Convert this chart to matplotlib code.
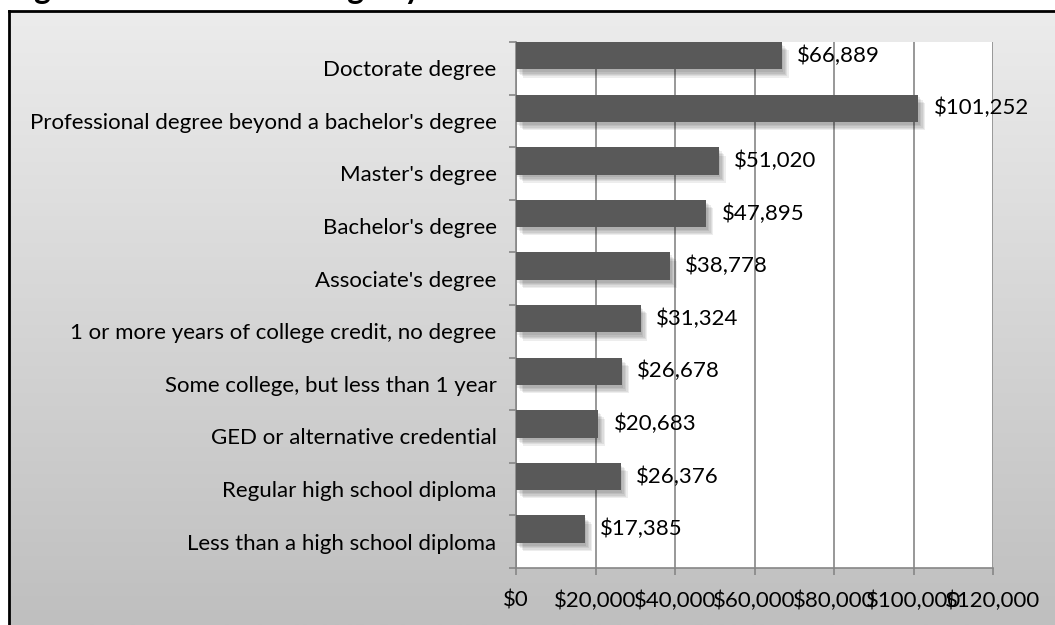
"""
Median earnings by educational attainment - horizontal bar chart.
Output: out.png
"""

import matplotlib.pyplot as plt
import matplotlib.patheffects as pe
import numpy as np
from matplotlib.colors import LinearSegmentedColormap
from matplotlib.ticker import FuncFormatter, MultipleLocator

# Datos (de arriba hacia abajo, como en el grafico)
CATEGORIES = [
    "Doctorate degree",
    "Professional degree beyond a bachelor's degree",
    "Master's degree",
    "Bachelor's degree",
    "Associate's degree",
    "1 or more years of college credit, no degree",
    "Some college, but less than 1 year",
    "GED or alternative credential",
    "Regular high school diploma",
    "Less than a high school diploma",
]
EARNINGS = [66889, 101252, 51020, 47895, 38778, 31324, 26678, 20683, 26376, 17385]
X_MAX = 120000
X_STEP = 20000
TITLE = "Figure 2: Median Earnings by Educational Attainment"

W, H = 1055, 625
FONT = "Lato"
FS = 16

plt.rcParams["font.family"] = [FONT, "DejaVu Sans"]

fig = plt.figure(figsize=(W / 100, H / 100), dpi=100)
fig.patch.set_facecolor("white")

# Fondo del area del grafico: degradado gris claro -> gris medio
bg = fig.add_axes([9 / W, 0, 1 - 9 / W, 1 - 11 / H])
grad = np.linspace(0, 1, 256).reshape(-1, 1)
cmap = LinearSegmentedColormap.from_list("bg", ["#ececec", "#bfbfbf"])
bg.imshow(grad, aspect="auto", cmap=cmap, extent=[0, 1, 0, 1], origin="upper")
bg.set_xticks([])
bg.set_yticks([])
for side in ("right", "bottom"):
    bg.spines[side].set_visible(False)
for side in ("left", "top"):
    bg.spines[side].set_linewidth(2)
    bg.spines[side].set_color("black")

# Titulo cortado por el borde superior (solo se ven los descendentes)
fig.text(8 / W, 1 + 1 / H, TITLE, fontsize=23, fontweight="bold",
         ha="left", va="baseline")

ax = fig.add_axes([516 / W, 1 - 568 / H, (993 - 516) / W, (568 - 42) / H])
ax.set_facecolor("white")

y = np.arange(len(CATEGORIES))
# Sombra suave debajo de cada barra
shadow = [pe.SimplePatchShadow(offset=(o, -o - 1), shadow_rgbFace="black", alpha=0.07)
          for o in (1, 2, 3, 4, 5)] + [pe.Normal()]
bars = ax.barh(y - 0.5, EARNINGS, height=0.52, align="edge", color="#595959",
               zorder=3, path_effects=shadow)

for b, v in zip(bars, EARNINGS):
    ax.annotate(f"${v:,}", xy=(v, b.get_y() + b.get_height() / 2),
                xytext=(11, 0), textcoords="offset points",
                ha="left", va="center", fontsize=FS, zorder=4)

ax.set_xlim(0, X_MAX)
ax.set_ylim(len(CATEGORIES) - 0.5, -0.5)
ax.xaxis.set_major_locator(MultipleLocator(X_STEP))
ax.xaxis.set_major_formatter(FuncFormatter(lambda v, _: f"${v:,.0f}"))
ax.grid(axis="x", color="#868686", linewidth=1.2, zorder=1)

ax.set_yticks(y)
ax.set_yticklabels(CATEGORIES)
ax.set_yticks(np.arange(len(CATEGORIES) + 1) - 0.5, minor=True)
ax.tick_params(axis="y", which="major", length=0, pad=14, labelsize=FS)
ax.tick_params(axis="y", which="minor", length=5, width=1.2, color="#868686")
ax.tick_params(axis="x", length=5, width=1.2, color="#868686", pad=11,
               labelsize=FS, direction="out")

for side in ("top", "right"):
    ax.spines[side].set_visible(False)
for side in ("left", "bottom"):
    ax.spines[side].set_color("#868686")
    ax.spines[side].set_linewidth(1.2)

fig.savefig("out.png", dpi=100)
